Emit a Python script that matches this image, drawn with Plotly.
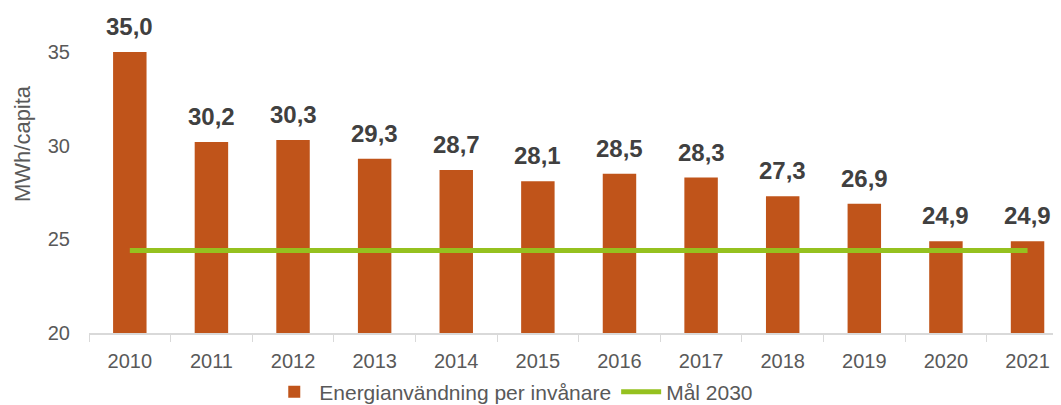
import plotly.graph_objects as go

years = ["2010", "2011", "2012", "2013", "2014", "2015", "2016", "2017", "2018", "2019", "2020", "2021"]
energy = [35.0, 30.2, 30.3, 29.3, 28.7, 28.1, 28.5, 28.3, 27.3, 26.9, 24.9, 24.9]
target_2030 = [24.4, 24.4, 24.4, 24.4, 24.4, 24.4, 24.4, 24.4, 24.4, 24.4, 24.4, 24.4]
labels = ["35,0", "30,2", "30,3", "29,3", "28,7", "28,1", "28,5", "28,3", "27,3", "26,9", "24,9", "24,9"]

BAR = "#C0541A"
GREEN = "#95C11F"
GREY = "#595959"
FONT = "Liberation Sans, Arial, sans-serif"

fig = go.Figure()
fig.add_trace(go.Bar(
    x=years, y=energy, name="Energianvändning per invånare",
    marker=dict(color=BAR, line=dict(width=0)),
))
fig.add_trace(go.Scatter(
    x=years, y=target_2030, name="Mål 2030", mode="lines",
    line=dict(color=GREEN, width=5),
))

for i, (v, lab) in enumerate(zip(energy, labels)):
    fig.add_annotation(
        x=i, y=v, xref="x", yref="y", text="<b>" + lab + "</b>", showarrow=False,
        yanchor="bottom", yshift=10,
        font=dict(family=FONT, size=24, color="#404040"),
    )

# y-axis title
fig.add_annotation(
    x=-0.0689, y=0.5815, xref="paper", yref="paper", text="MWh/capita",
    textangle=-90, showarrow=False, xanchor="center", yanchor="middle",
    font=dict(family=FONT, size=22, color=GREY),
)

fig.update_layout(
    width=1061, height=405,
    margin=dict(l=81, r=8, t=0, b=80, autoexpand=False),
    paper_bgcolor="white", plot_bgcolor="white",
    bargap=0.59,
    showlegend=True,
    legend=dict(
        orientation="h", x=0.437, xanchor="center", y=-0.1815, yanchor="middle",
        font=dict(family=FONT, size=21, color=GREY),
        itemwidth=40, tracegroupgap=0,
    ),
    font=dict(family=FONT, color=GREY),
)
fig.update_xaxes(
    type="category", range=[-0.5, 11.41], automargin=False,
    showline=True, linecolor="#D9D9D9", linewidth=1.5,
    ticks="outside", tickson="boundaries", ticklen=7, tickcolor="#D9D9D9",
    tickfont=dict(family=FONT, size=20, color=GREY),
    ticklabelstandoff=9,
    showgrid=False, zeroline=False,
)
fig.update_yaxes(
    range=[20, 37.35], tickvals=[20, 25, 30, 35], automargin=False,
    showgrid=False, zeroline=False, showline=False,
    tickfont=dict(family=FONT, size=20, color=GREY),
    ticklabelstandoff=18,
)

fig.write_html("out.html")
